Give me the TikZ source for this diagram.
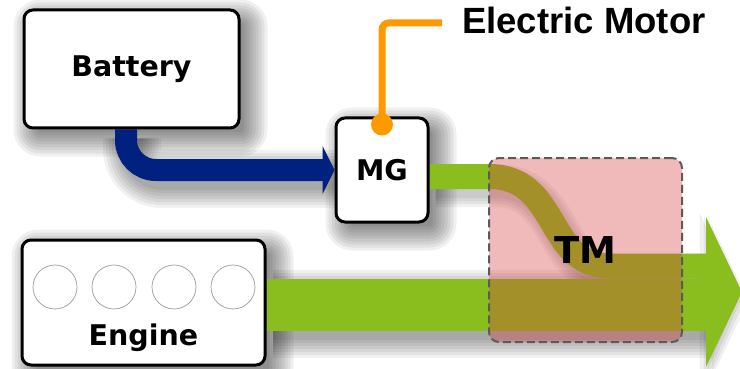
\documentclass[tikz,border=0pt]{standalone}
\usepackage{fontspec}
\usepackage{tikz}
\usetikzlibrary{arrows.meta}
\newfontfamily\boxfont{DejaVu Sans}
\newfontfamily\calloutfont{Liberation Sans}
\definecolor{battblue}{RGB}{0,33,128}
\definecolor{flowgreen}{RGB}{138,190,30}
\definecolor{calloutorange}{RGB}{255,153,0}
\definecolor{tmred}{RGB}{215,60,60}
\definecolor{dashgrey}{RGB}{90,90,90}
\definecolor{boregrey}{RGB}{165,150,170}
\pgfdeclarelayer{paper}
\pgfdeclarelayer{shades}
\pgfdeclarelayer{flows}
\pgfsetlayers{paper,shades,flows,main}
\tikzstyle{unit} = [rectangle, rounded corners=9, draw=black, line width=3, fill=white, font=\boxfont\bfseries\fontsize{28.5}{30}\selectfont]
\tikzstyle{gearbox} = [rectangle, rounded corners=10, draw=dashgrey, line width=2, dash pattern=on 8pt off 4pt, fill=tmred, fill opacity=0.35, text opacity=1, font=\boxfont\bfseries\fontsize{37}{40}\selectfont]
\tikzstyle{bore} = [circle, draw=boregrey, line width=0.7, minimum size=44, inner sep=0]
\tikzstyle{feed} = [draw=battblue, line width=22, rounded corners=30, -{Triangle[length=12pt,width=48pt]}]
\tikzstyle{flow} = [draw=flowgreen]
\tikzstyle{haze} = [draw=black, opacity=0.055, transform canvas={xshift=6pt,yshift=-9pt}]
\tikzstyle{soft} = [fill=black, opacity=0.06, transform canvas={xshift=9pt,yshift=-9pt}]
\tikzstyle{callout} = [draw=calloutorange, line width=7, rounded corners=7]

\begin{document}
\begin{tikzpicture}[x=1pt, y=-1pt]
\useasboundingbox (0,0) rectangle (740,369);
\begin{pgfonlayer}{paper}
\fill[white] (0,0) rectangle (740,369);
\end{pgfonlayer}

% units
\node (battery) [unit, minimum width=215, minimum height=118] at (131.5,69) {Battery};
\node (mg) [unit, minimum width=92, minimum height=104] at (382,170) {MG};
\node (engine) [unit, minimum width=243, minimum height=125] at (143.5,302.5) {};
\node (enginelabel) [font=\boxfont\bfseries\fontsize{28.5}{30}\selectfont, anchor=base, inner sep=0] at (143.5,345) {Engine};
\foreach \i/\x in {1/55,2/114,3/174,4/233}
  \node (bore\i) [bore] at (\x,287) {};

\coordinate (merge) at (706,266);
\coordinate (out) at (706,304.5);
\coordinate (tip) at (742,292);

% power flows
\begin{pgfonlayer}{flows}
\draw[flow, line width=25] ([yshift=-6.5pt]mg.east) -- (489,176.5) .. controls (560,176.5) and (545,266) .. (610,266) -- (merge);
\draw[flow, line width=52] ([yshift=-2pt]engine.east) -- (out);
\fill[flowgreen] (tip) -- ++(-36,-75) -- ++(0,150) -- cycle;
\draw[feed] ([xshift=-5.5pt]battery.south) |- (mg.west);
\end{pgfonlayer}

\node (tm) [gearbox, minimum width=193, minimum height=184] at (585.5,250) {TM};

% shadows
\begin{pgfonlayer}{shades}
\foreach \n in {battery,mg,engine}
  \foreach \s in {-6,-3,0,3,6,9,12,15,18}
    \fill[soft, rounded corners=9+\s] ([xshift=-\s pt,yshift=-\s pt]\n.south west) rectangle ([xshift=\s pt,yshift=\s pt]\n.north east);
\foreach \w in {22,28,34,40,46,52,58}
  \draw[haze, line width=\w, rounded corners=30] ([xshift=-5.5pt]battery.south) |- (mg.west);
\foreach \w in {52,58,64,70,76,82,88}
  \draw[haze, line width=\w] ([yshift=-2pt]engine.east) -- (out);
\foreach \w in {25,31,37,43}
  \draw[haze, line width=\w] ([yshift=-6.5pt]mg.east) -- (489,176.5) .. controls (560,176.5) and (545,266) .. (610,266) -- (merge);
\foreach \s in {0,4,8,12}
  \fill[haze, fill=black] ([xshift=-\s pt]tip) -- ++(-36,-75-\s) -- ++(0,150+2*\s) -- cycle;
\end{pgfonlayer}

% callout
\node (mgdot) [circle, fill=calloutorange, minimum size=22, inner sep=0] at ([yshift=-8pt]mg.north) {};
\node (motorlabel) [anchor=base west, inner sep=0, font=\calloutfont\bfseries\fontsize{36.5}{40}\selectfont] at (462,34) {Electric Motor};
\draw[callout] (mgdot.center) |- ([xshift=-20pt,yshift=-2pt]motorlabel.west);

\end{tikzpicture}
\end{document}
